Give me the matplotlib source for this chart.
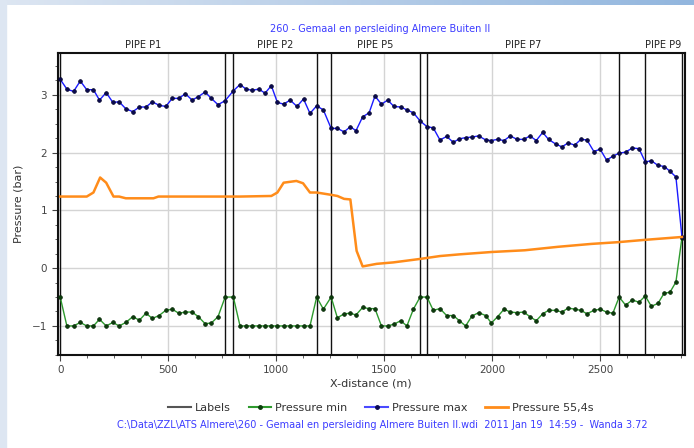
import numpy as np
import matplotlib.pyplot as plt
from matplotlib.lines import Line2D
from matplotlib.ticker import MultipleLocator
import matplotlib.transforms as mtransforms

# x positions of the computed points (m)
x_pts = [0, 31, 62, 93, 123, 154, 182, 213, 244, 273, 304, 336, 367, 397, 427, 458,
         489, 519, 549, 580, 611, 640, 671, 700, 731, 764, 802, 833, 861, 890, 920,
         949, 978, 1006, 1035, 1065, 1097, 1127, 1157, 1188, 1219, 1255, 1284, 1315,
         1344, 1370, 1401, 1431, 1458, 1488, 1517, 1546, 1577, 1606, 1636, 1667, 1699,
         1728, 1759, 1790, 1821, 1849, 1878, 1907, 1938, 1971, 1997, 2026, 2056, 2085,
         2116, 2147, 2176, 2205, 2235, 2262, 2295, 2324, 2353, 2383, 2412, 2440, 2472,
         2501, 2531, 2560, 2589, 2619, 2650, 2681, 2710, 2738, 2769, 2798, 2824, 2852,
         2880]

p_max = [3.27, 3.10, 3.06, 3.24, 3.09, 3.09, 2.91, 3.04, 2.87, 2.88, 2.76, 2.71, 2.79,
         2.79, 2.88, 2.82, 2.80, 2.94, 2.94, 3.02, 2.91, 2.97, 3.05, 2.94, 2.83, 2.90,
         3.07, 3.18, 3.10, 3.08, 3.10, 3.03, 3.16, 2.87, 2.84, 2.91, 2.80, 2.93, 2.68,
         2.81, 2.74, 2.42, 2.42, 2.36, 2.45, 2.38, 2.62, 2.69, 2.98, 2.84, 2.91, 2.80,
         2.79, 2.74, 2.69, 2.55, 2.45, 2.43, 2.22, 2.28, 2.18, 2.24, 2.26, 2.27, 2.29,
         2.22, 2.21, 2.23, 2.21, 2.29, 2.23, 2.23, 2.29, 2.21, 2.35, 2.23, 2.15, 2.10,
         2.17, 2.13, 2.23, 2.22, 2.02, 2.06, 1.87, 1.94, 1.99, 2.01, 2.08, 2.07, 1.84,
         1.86, 1.78, 1.76, 1.68, 1.58, 0.54]

p_min = [-0.50, -1.00, -1.00, -0.94, -1.00, -1.00, -0.885, -1.00, -0.94, -1.00, -0.94,
         -0.84, -0.90, -0.78, -0.87, -0.82, -0.73, -0.71, -0.78, -0.76, -0.76, -0.84,
         -0.96, -0.95, -0.84, -0.50, -0.50, -1.00, -1.00, -1.00, -1.00, -1.00, -1.00,
         -1.00, -1.00, -1.00, -1.00, -1.00, -1.00, -0.50, -0.71, -0.50, -0.86, -0.79,
         -0.78, -0.81, -0.68, -0.70, -0.70, -1.00, -1.00, -0.97, -0.91, -1.00, -0.71,
         -0.50, -0.50, -0.73, -0.70, -0.82, -0.82, -0.91, -1.00, -0.83, -0.77, -0.82,
         -0.95, -0.84, -0.71, -0.76, -0.77, -0.76, -0.84, -0.91, -0.79, -0.73, -0.73,
         -0.76, -0.69, -0.71, -0.73, -0.79, -0.73, -0.71, -0.76, -0.78, -0.50, -0.64,
         -0.55, -0.59, -0.48, -0.66, -0.61, -0.43, -0.42, -0.24, 0.53]

# pressure at t = 55.4 s
x_t = [0, 123, 154, 185, 213, 247, 273, 304, 432, 455, 833, 978, 1006, 1035, 1094,
       1125, 1157, 1188, 1255, 1284, 1315, 1344, 1373, 1401, 1466, 1543, 1605, 1667,
       1759, 1852, 1998, 2152, 2306, 2460, 2583, 2707, 2880]
p_t = [1.24, 1.24, 1.31, 1.57, 1.48, 1.24, 1.24, 1.21, 1.21, 1.24, 1.24, 1.25, 1.31,
       1.48, 1.51, 1.47, 1.31, 1.31, 1.27, 1.25, 1.20, 1.19, 0.30, 0.03, 0.075, 0.10,
       0.13, 0.16, 0.21, 0.24, 0.28, 0.31, 0.37, 0.42, 0.45, 0.49, 0.54]

label_x = [0, 764, 802, 1188, 1255, 1667, 1699, 2589, 2710, 2880]
pipe_names = ["PIPE P1", "PIPE P2", "PIPE P5", "PIPE P7", "PIPE P9"]
pipe_start = [0, 802, 1255, 1699, 2710]
pipe_end = [764, 1188, 1667, 2589, 2880]

fig = plt.figure(figsize=(6.94, 4.48), dpi=100)

# window-style border strips
grad = fig.add_axes([0, 1 - 5 / 448, 1, 5 / 448])
grad.imshow(np.linspace(0, 1, 256)[None, :], aspect='auto',
            cmap=plt.matplotlib.colors.LinearSegmentedColormap.from_list('g', ['#dde6f2', '#92b6de']))
grad.axis('off')
fig.patches.append(plt.Rectangle((0, 0), 6 / 694, 1, transform=fig.transFigure,
                                 color='#dde6f2', zorder=0))

ax = fig.add_axes([0.083, 0.208, 0.904, 0.673])

for xv in label_x:
    ax.axvline(xv, color='#111111', lw=1.0, zorder=2)

ax.plot(x_pts, p_min, color='#2e9a2e', lw=1.0, marker='o', ms=2.7,
        mfc='#0b3d0b', mec='#0b2a0b', mew=0.5, zorder=3)
ax.plot(x_pts, p_max, color='#1a1aff', lw=1.0, marker='o', ms=2.7,
        mfc='#0a0a50', mec='#05052a', mew=0.5, zorder=3)
ax.plot(x_t, p_t, color='#ff8c1a', lw=1.8, zorder=4)

ax.set_xlim(-12, 2894)
ax.set_ylim(-1.5, 3.72)
ax.xaxis.set_major_locator(MultipleLocator(500))
ax.xaxis.set_minor_locator(MultipleLocator(125))
ax.yaxis.set_major_locator(MultipleLocator(1))
ax.yaxis.set_minor_locator(MultipleLocator(0.25))
ax.grid(True, which='major', color='#d4d4d4', lw=1.0, zorder=0)
ax.set_axisbelow(True)
ax.tick_params(which='both', direction='out', colors='#444444', labelsize=7.5)
ax.tick_params(which='major', length=4)
ax.tick_params(which='minor', length=2)
for s in ax.spines.values():
    s.set_color('#111111')
    s.set_linewidth(1.5)

ax.set_xlabel("X-distance (m)", fontsize=8, color='#333333', labelpad=2)
ax.set_ylabel("Pressure (bar)", fontsize=8, color='#333333', labelpad=6)

trans = mtransforms.blended_transform_factory(ax.transData, ax.transAxes)
for name, a, b in zip(pipe_names, pipe_start, pipe_end):
    ax.text((a + b) / 2, 1.012, name, transform=trans, ha='center', va='bottom',
            fontsize=7, color='#222222')

fig.text(0.548, 0.935, "260 - Gemaal en persleiding Almere Buiten II", ha='center',
         va='center', fontsize=7, color='#3b3bff')

handles = [
    Line2D([], [], color='#555555', lw=1.5),
    Line2D([], [], color='#2e9a2e', lw=1.5, marker='o', ms=2.5, mfc='#0b3d0b', mec='#0b3d0b'),
    Line2D([], [], color='#4a4aff', lw=1.5, marker='o', ms=2.5, mfc='#0a0a50', mec='#0a0a50'),
    Line2D([], [], color='#ff8c1a', lw=2.0),
]
fig.legend(handles, ["Labels", "Pressure min", "Pressure max", "Pressure 55,4s"],
           loc='center', bbox_to_anchor=(0.549, 0.089), ncol=4, frameon=False,
           fontsize=8, handlelength=2.0, columnspacing=1.6, handletextpad=0.4,
           labelcolor='#333333')

fig.text(0.551, 0.051,
         "C:\\Data\\ZZL\\ATS Almere\\260 - Gemaal en persleiding Almere Buiten II.wdi  2011 Jan 19  14:59 -  Wanda 3.72",
         ha='center', va='center', fontsize=7, color='#3b3bff')

fig.savefig("out.png", dpi=100)
